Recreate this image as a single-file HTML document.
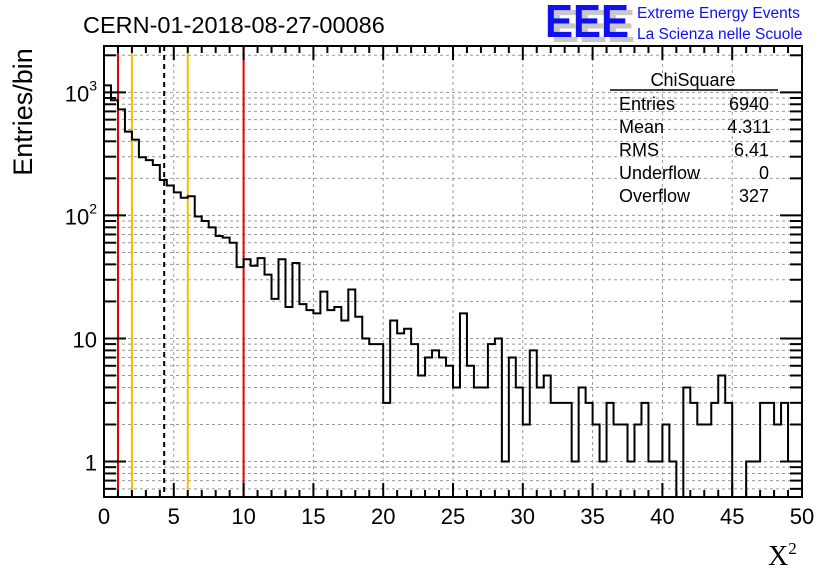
<!DOCTYPE html>
<html><head><meta charset="utf-8"><style>
body{margin:0;background:#fff;}
svg{display:block;font-family:"Liberation Sans",Arial,sans-serif;}
</style></head><body>
<svg id="c" width="836" height="572" viewBox="0 0 836 572">
<rect width="836" height="572" fill="#fff"/>
<g id="grid"></g>
<g id="vlines"></g>
<g id="hist"></g>
<g id="axes"></g>
<text x="83" y="33" font-size="23.5">CERN-01-2018-08-27-00086</text>
<g>
<text x="551" y="42" font-size="46" font-weight="bold" fill="#c8c8c8" textLength="84" lengthAdjust="spacingAndGlyphs">EEE</text>
<text x="545" y="37" font-size="46" font-weight="bold" fill="#1010f0" textLength="84" lengthAdjust="spacingAndGlyphs">EEE</text>
<text x="637" y="18" font-size="15.5" fill="#1010f0">Extreme Energy Events</text>
<text x="637" y="39" font-size="15.5" fill="#1010f0">La Scienza nelle Scuole</text>
</g>
<g font-size="18">
<text x="693" y="86" text-anchor="middle">ChiSquare</text>
<line x1="610" y1="90" x2="778" y2="90" stroke="#000" stroke-width="1.5"/>
<text x="619" y="110">Entries</text><text x="769" y="110" text-anchor="end">6940</text>
<text x="619" y="133">Mean</text><text x="771" y="133" text-anchor="end">4.311</text>
<text x="619" y="156">RMS</text><text x="769" y="156" text-anchor="end">6.41</text>
<text x="619" y="179">Underflow</text><text x="769" y="179" text-anchor="end">0</text>
<text x="619" y="202">Overflow</text><text x="769" y="202" text-anchor="end">327</text>
</g>
<text transform="translate(32,112) rotate(-90)" text-anchor="middle" font-size="27">Entries/bin</text>
<text x="768" y="565" font-size="28" font-family="Liberation Serif,serif">X<tspan font-size="17" dy="-11">2</tspan></text>
</svg>
<script>
const counts=[1140,863,727,479,413,297,281,257,194,175,154,139,143,98,90,80,68,66,60,38,
44,39,45,33,21,44,18,41,19,17,16,24,17,18,14,25,15,10,9,9,
3,14,11,12,9,5,7,8,7,6,4,16,6,4,4,9,10,1,7,4,
2,8,4,5,3,3,3,1,4,3,2,1,3,2,2,1,2,3,1,1,
2,1,0,4,3,2,2,3,5,3,0,0,1,1,3,3,2,3,1,1];
const xTicks=[0,5,10,15,20,25,30,35,40,45,50];
const yTickVals=[1,10,100,1000];
const yTickLabels=["1","10","10²","10³"];
const cutLines=[{x:1,c:"#e00000",d:""},{x:2,c:"#f0c000",d:""},{x:4.311,c:"#000",d:"5,4"},{x:6,c:"#f0c000",d:""},{x:10,c:"#e00000",d:""}];
const X0=104,X1=802,Y0=497,Y1=46,xmin=0,xmax=50,lmin=Math.log10(0.515),lmax=Math.log10(2380);
const sx=v=>X0+(v-xmin)/(xmax-xmin)*(X1-X0);
const sy=v=>v<=0?Y0:Math.max(Y1,Y0-(Math.log10(v)-lmin)/(lmax-lmin)*(Y0-Y1));
const NS="http://www.w3.org/2000/svg";
function mk(t,a,p){const e=document.createElementNS(NS,t);for(const k in a)e.setAttribute(k,a[k]);p.appendChild(e);return e;}
const grid=document.getElementById('grid'),axes=document.getElementById('axes'),hist=document.getElementById('hist'),vl=document.getElementById('vlines');
xTicks.forEach(v=>{if(v>xmin&&v<xmax){const l=mk('line',{x1:sx(v),x2:sx(v),y1:Y1,y2:Y0,stroke:'#999','stroke-dasharray':'3,3'},grid);

}});
for(let d=-1;d<=3;d++)for(let m=1;m<10;m++){const v=m*Math.pow(10,d);const y=sy(v);if(y>=Y0-0.5||y<=Y1+0.5)continue;
const l=mk('line',{x1:X0,x2:X1,y1:y,y2:y,stroke:'#999','stroke-dasharray':'3,3'},grid);


const t1=mk('line',{x1:X0,x2:X0+(m===1?22:12),y1:y,y2:y,stroke:'#000','stroke-width':2},axes);


const t2=mk('line',{x1:X1,x2:X1-(m===1?22:12),y1:y,y2:y,stroke:'#000','stroke-width':2},axes);

}
cutLines.forEach(c=>{const l=mk('line',{x1:sx(c.x),x2:sx(c.x),y1:Y1,y2:Y0,stroke:c.c,'stroke-width':2,'stroke-dasharray':c.d},vl);

});
const bw=(xmax-xmin)/counts.length;let d='M'+sx(0)+','+Y0;
counts.forEach((c,i)=>{const y=sy(c);d+=' L'+sx(i*bw)+','+y+' L'+sx((i+1)*bw)+','+y;});
d+=' L'+sx(xmax)+','+Y0;
const h=mk('path',{d:d,fill:'none',stroke:'#000','stroke-width':2},hist);


const f=mk('rect',{x:X0,y:Y1,width:X1-X0,height:Y0-Y1,fill:'none',stroke:'#000','stroke-width':2},axes);


for(let v=0;v<=50;v+=1){const x=sx(v);const L=(v%5===0)?14:7;
const a=mk('line',{x1:x,x2:x,y1:Y0,y2:Y0-L,stroke:'#000','stroke-width':2},axes);


const b=mk('line',{x1:x,x2:x,y1:Y1,y2:Y1+L,stroke:'#000','stroke-width':2},axes);

}
xTicks.forEach(v=>{const t=mk('text',{x:sx(v),y:Y0+27,'text-anchor':'middle','font-size':22},axes);t.textContent=v;

});
yTickVals.forEach((v,i)=>{const t=mk('text',{x:X0-7,y:sy(v)+9,'text-anchor':'end','font-size':22},axes);
const lab=yTickLabels[i];
if(lab.length>2){t.textContent='10';const s=mk('tspan',{'font-size':14,dy:-11},t);s.textContent=lab.slice(2)==='²'?'2':'3';}
else t.textContent=lab;

});
</script>
</body></html>
